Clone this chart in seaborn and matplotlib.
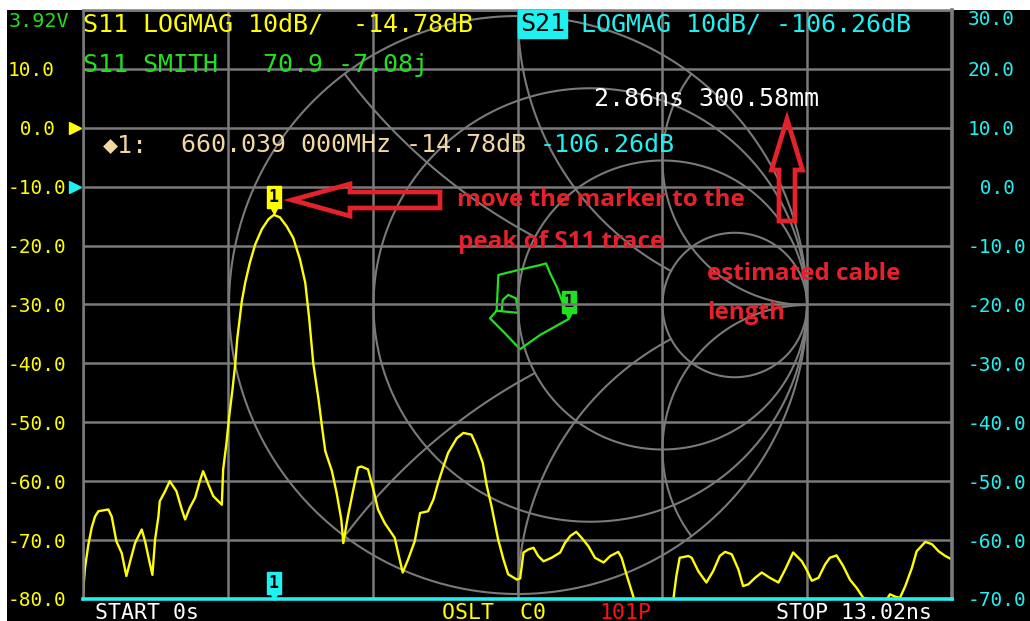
import matplotlib
matplotlib.use("Agg")
import matplotlib.pyplot as plt
import matplotlib.patches as mpatches
import matplotlib.transforms as mtransforms
import numpy as np
import pandas as pd
import seaborn as sns

s11_time_ns = [0.00, 0.03, 0.08, 0.13, 0.18, 0.23, 0.38, 0.43, 0.50, 0.58,
               0.65, 0.70, 0.78, 0.88, 0.93, 1.00, 1.04, 1.08, 1.13, 1.15,
               1.23, 1.30, 1.40, 1.48, 1.53, 1.60, 1.68, 1.75, 1.80, 1.88,
               1.95, 2.08, 2.10, 2.15, 2.19, 2.24, 2.28, 2.31, 2.38, 2.43,
               2.50, 2.58, 2.68, 2.78, 2.86, 2.95, 3.05, 3.15, 3.25, 3.33,
               3.39, 3.45, 3.53, 3.58, 3.63, 3.73, 3.80, 3.87, 3.90, 3.97,
               4.05, 4.12, 4.17, 4.27, 4.35, 4.42, 4.52, 4.67, 4.72, 4.79,
               4.87, 4.97, 5.05, 5.17, 5.25, 5.32, 5.40, 5.47, 5.60, 5.70,
               5.82, 5.90, 5.99, 6.05, 6.12, 6.22, 6.30, 6.37, 6.50, 6.55,
               6.60, 6.67, 6.75, 6.82, 6.90, 7.02, 7.15, 7.22, 7.30, 7.39,
               7.47, 7.57, 7.67, 7.80, 7.90, 8.02, 8.07, 8.15, 8.27, 8.84,
               8.89, 8.94, 9.07, 9.12, 9.22, 9.34, 9.44, 9.54, 9.62, 9.72,
               9.82, 9.89, 9.97, 10.07, 10.17, 10.29, 10.42, 10.52, 10.64, 10.77,
               10.84, 10.92, 11.02, 11.12, 11.19, 11.29, 11.39, 11.49, 11.59, 11.69,
               12.02, 12.09, 12.17, 12.24, 12.32, 12.42, 12.49, 12.62, 12.72, 12.82,
               12.92, 13.02]
s11_db = [-79.0, -74.7, -70.8, -67.9, -66.0, -65.1, -64.8, -66.0, -70.2, -72.2,
          -76.1, -73.9, -70.5, -68.2, -70.2, -73.9, -75.9, -69.9, -66.0, -63.4,
          -61.7, -60.0, -61.7, -64.8, -66.5, -64.5, -62.8, -60.0, -58.3, -60.6,
          -62.5, -64.0, -58.0, -53.5, -49.0, -44.4, -40.2, -35.9, -29.4, -26.3,
          -22.9, -19.8, -17.2, -15.5, -14.78, -15.2, -16.7, -18.7, -22.3, -26.3,
          -32.5, -40.0, -46.2, -50.7, -54.9, -58.3, -62.0, -66.5, -70.5, -65.9,
          -61.4, -57.7, -57.5, -58.0, -61.4, -64.8, -67.1, -69.6, -72.1, -75.5,
          -73.3, -70.2, -65.4, -65.1, -63.1, -60.3, -57.5, -55.2, -52.7, -51.8,
          -52.1, -54.1, -56.9, -60.8, -64.2, -69.9, -73.3, -75.8, -76.7, -76.5,
          -72.1, -71.6, -71.3, -72.7, -73.6, -73.0, -72.1, -70.5, -69.3, -68.6,
          -69.6, -71.0, -73.0, -73.8, -72.7, -72.0, -73.0, -76.1, -80.5, -80.5,
          -76.1, -73.0, -72.7, -73.0, -75.3, -77.2, -75.3, -72.7, -72.0, -72.4,
          -75.0, -77.8, -77.5, -76.4, -75.5, -76.4, -77.2, -75.0, -72.1, -73.6,
          -75.0, -76.9, -76.4, -74.1, -73.0, -72.6, -74.4, -76.7, -78.1, -79.8,
          -80.5, -79.2, -79.6, -79.8, -77.8, -74.7, -71.9, -70.3, -70.7, -71.9,
          -72.7, -73.3]

marker_time_ns = 2.86
marker_s11_db = -14.78

# Traza S11 en la carta de Smith (coeficiente de reflexion, parte real e imaginaria)
smith_re = [-0.056, -0.053, -0.034, -0.007, 0.001, -0.074, -0.068, 0.001, 0.076, 0.097,
            0.111, 0.134, 0.176, 0.076, 0.007, -0.045, -0.097, -0.074]
smith_im = [-0.017, 0.017, 0.035, 0.023, -0.027, -0.020, 0.104, 0.121, 0.138, 0.144,
            0.110, 0.063, -0.048, -0.104, -0.153, -0.098, -0.046, -0.020]
smith_marker_re = 0.176
smith_marker_im = -0.048

left_ticks = [20, 10, 0, -10, -20, -30, -40, -50, -60, -70, -80]
left_labels = ["", "10.0", " 0.0", "-10.0", "-20.0", "-30.0", "-40.0",
               "-50.0", "-60.0", "-70.0", "-80.0"]
right_ticks = [30, 20, 10, 0, -10, -20, -30, -40, -50, -60, -70]
right_labels = ["30.0", "20.0", "10.0", " 0.0", "-10.0", "-20.0", "-30.0",
                "-40.0", "-50.0", "-60.0", "-70.0"]
time_grid_ns = [0, 2.17, 4.34, 6.51, 8.68, 10.85, 13.02]

YEL = "#ffff00"
CYA = "#20f0f0"
GRN = "#20e020"
GRAY = "#7a7a7a"
TAN = "#f3d7a0"
RED = "#e5222b"
W, H = 1030, 621

sns.set_style("dark", {"axes.facecolor": "black", "figure.facecolor": "black"})
plt.rcParams["font.family"] = ["DejaVu Sans Mono", "DejaVu Sans"]

fig = plt.figure(figsize=(W / 100, H / 100), dpi=100, facecolor="black")
fig.patches.append(mpatches.Rectangle((0, 1 - 10 / H), 1, 10 / H, transform=fig.transFigure,
                                      fc="white", ec="none", zorder=0))
fig.patches.append(mpatches.Rectangle((0, 0), 7 / W, 1, transform=fig.transFigure,
                                      fc="white", ec="none", zorder=0))


def px(x, y):
    return x / W, 1 - y / H


# Carta de Smith (fondo)
R = 289
cx, cy = 518, 305
ax_s = fig.add_axes([(cx - 290) / W, (H - cy - 290) / H, 580 / W, 580 / H])
ax_s.set_xlim(-290 / R, 290 / R)
ax_s.set_ylim(-290 / R, 290 / R)
ax_s.axis("off")
ax_s.set_zorder(1)


def inside_outer(x, y):
    return x ** 2 + y ** 2 <= 1.0005


def outside_r3(x, y):
    return (x - 0.75) ** 2 + y ** 2 >= 0.25 ** 2 - 0.0005


def outside_r1(x, y):
    return (x - 0.5) ** 2 + y ** 2 >= 0.5 ** 2 - 0.0005


def smith_arc(ccx, ccy, r, keep=None):
    th = np.linspace(0, 2 * np.pi, 4000)
    gx = ccx + r * np.cos(th)
    gy = ccy + r * np.sin(th)
    if keep is not None:
        m = keep(gx, gy)
        gx = np.where(m, gx, np.nan)
        gy = np.where(m, gy, np.nan)
    ax_s.plot(gx, gy, color=GRAY, lw=1.5)


smith_arc(0, 0, 1)
for s in (1, -1):
    smith_arc(1, s * 0.5, 0.5, inside_outer)
    smith_arc(1, s * 1.0, 1.0, lambda x, y: inside_outer(x, y) & outside_r3(x, y))
    smith_arc(1, s * 2.0, 2.0, lambda x, y: inside_outer(x, y) & outside_r1(x, y))
smith_arc(0.75, 0, 0.25)
smith_arc(0.5, 0, 0.5, outside_r3)
smith_arc(0.25, 0, 0.75, outside_r1)

smith_df = pd.DataFrame({"re": smith_re, "im": smith_im})
sns.lineplot(data=smith_df, x="re", y="im", sort=False, estimator=None,
             color=GRN, lw=1.6, ax=ax_s)
ax_s.plot([smith_marker_re], [smith_marker_im], marker="v", ms=7, color=GRN,
          transform=mtransforms.offset_copy(ax_s.transData, fig, y=4, units="points"))
ax_s.annotate("1", xy=(smith_marker_re, smith_marker_im), xytext=(0, 12.5),
              textcoords="offset points", ha="center", va="center", fontsize=12,
              fontweight="bold", color="black",
              bbox=dict(boxstyle="square,pad=0.12", fc=GRN, ec=GRN))

# Eje principal (S11 en dB)
ax = fig.add_axes([83 / W, (H - 599) / H, (952 - 83) / W, (599 - 10) / H])
ax.set_zorder(2)
ax.patch.set_visible(False)
ax.set_xlim(0, 13.02)
ax.set_ylim(-80, 20)
ax.set_xticks(time_grid_ns)
ax.set_yticks(left_ticks)
ax.set_yticklabels(left_labels)
ax.grid(True, color=GRAY, lw=1.8)
ax.tick_params(axis="x", length=0, labelbottom=False)
ax.tick_params(axis="y", length=0, pad=54, labelsize=14, labelcolor=YEL)
for lab in ax.get_yticklabels():
    lab.set_ha("left")
for side in ("left", "top"):
    ax.spines[side].set_color(GRAY)
    ax.spines[side].set_linewidth(1.8)
ax.spines["right"].set_color(GRAY)
ax.spines["right"].set_linewidth(2.6)
ax.spines["bottom"].set_color(CYA)
ax.spines["bottom"].set_linewidth(2.6)

sns.lineplot(x=s11_time_ns, y=s11_db, color=YEL, lw=1.7, ax=ax)
ax.set_xlabel("")
ax.set_ylabel("")

ax.plot([marker_time_ns], [marker_s11_db], marker="v", ms=7, color=YEL,
        transform=mtransforms.offset_copy(ax.transData, fig, y=4, units="points"))
ax.annotate("1", xy=(marker_time_ns, marker_s11_db), xytext=(0, 12.5),
            textcoords="offset points", ha="center", va="center", fontsize=12,
            fontweight="bold", color="black",
            bbox=dict(boxstyle="square,pad=0.12", fc=YEL, ec=YEL))

blend = mtransforms.blended_transform_factory(ax.transAxes, ax.transData)
ax.plot([-0.009], [0], marker=">", ms=9, color=YEL, transform=blend, clip_on=False)

# Eje secundario (S21)
ax2 = ax.twinx()
ax2.set_zorder(3)
ax2.patch.set_visible(False)
ax2.set_ylim(-70, 30)
ax2.set_yticks(right_ticks)
ax2.set_yticklabels(right_labels)
ax2.grid(False)
ax2.tick_params(axis="y", length=0, pad=11.5, labelsize=14, labelcolor=CYA)
ax2.get_yticklabels()[0].set_va("top")
for sp in ax2.spines.values():
    sp.set_visible(False)
blend2 = mtransforms.blended_transform_factory(ax2.transAxes, ax2.transData)
ax2.plot([-0.009], [0], marker=">", ms=9, color=CYA, transform=blend2, clip_on=False)
ax2.plot([marker_time_ns], [-70], marker="v", ms=7, color=CYA, clip_on=False,
         transform=mtransforms.offset_copy(ax2.transData, fig, y=3, units="points"))
ax2.annotate("1", xy=(marker_time_ns, -70), xytext=(0, 11.5),
             textcoords="offset points", ha="center", va="center", fontsize=12,
             fontweight="bold", color="black",
             bbox=dict(boxstyle="square,pad=0.12", fc=CYA, ec=CYA))

# Textos de la pantalla
fig.text(*px(9, 27), "3.92V", color=GRN, fontsize=14.5, va="baseline")
fig.text(*px(83, 32), "S11 LOGMAG 10dB/  -14.78dB", color=YEL, fontsize=18, va="baseline")
fig.text(*px(83, 72), "S11 SMITH   70.9 -7.08j", color=GRN, fontsize=18, va="baseline")
fig.text(*px(520, 31), "S21", color="black", fontsize=18, va="baseline",
         bbox=dict(boxstyle="square,pad=0.08", fc=CYA, ec=CYA))
fig.text(*px(581, 31), "LOGMAG 10dB/ -106.26dB", color=CYA, fontsize=18, va="baseline")
fig.text(*px(103, 152), "\u25c61:", color=TAN, fontsize=18, va="baseline")
fig.text(*px(181, 152), "660.039 000MHz -14.78dB", color=TAN, fontsize=18, va="baseline")
fig.text(*px(540, 152), "-106.26dB", color=CYA, fontsize=18, va="baseline")
fig.text(*px(594, 106), "2.86ns 300.58mm", color="white", fontsize=18, va="baseline")
fig.text(*px(95, 619), "START 0s", color="white", fontsize=15.5, va="baseline")
fig.text(*px(442, 619), "OSLT  C0", color=YEL, fontsize=15.5, va="baseline")
fig.text(*px(599, 619), "101P", color="#ff1010", fontsize=15.5, va="baseline")
fig.text(*px(776, 619), "STOP 13.02ns", color="white", fontsize=15.5, va="baseline")

# Anotaciones en rojo
ann = fig.add_axes([0, 0, 1, 1])
ann.set_zorder(4)
ann.patch.set_visible(False)
ann.set_xlim(0, W)
ann.set_ylim(H, 0)
ann.axis("off")
ann.add_patch(mpatches.FancyArrow(440, 200, -148, 0, width=16, head_width=32, head_length=58,
                                  length_includes_head=True, fill=False, ec=RED, lw=3.4))
ann.add_patch(mpatches.FancyArrow(787, 221, 0, -102, width=16, head_width=31, head_length=51,
                                  length_includes_head=True, fill=False, ec=RED, lw=3.4))
red_font = dict(color=RED, fontsize=17.5, fontweight="bold",
                family=["Open Sans", "DejaVu Sans"], va="baseline")
ann.text(457, 206, "move the marker to the", **red_font)
ann.text(458, 248, "peak of S11 trace", **red_font)
ann.text(707, 280, "estimated cable", **red_font)
ann.text(707, 319, "length", **red_font)

fig.savefig("out.png", dpi=100, facecolor=fig.get_facecolor())
